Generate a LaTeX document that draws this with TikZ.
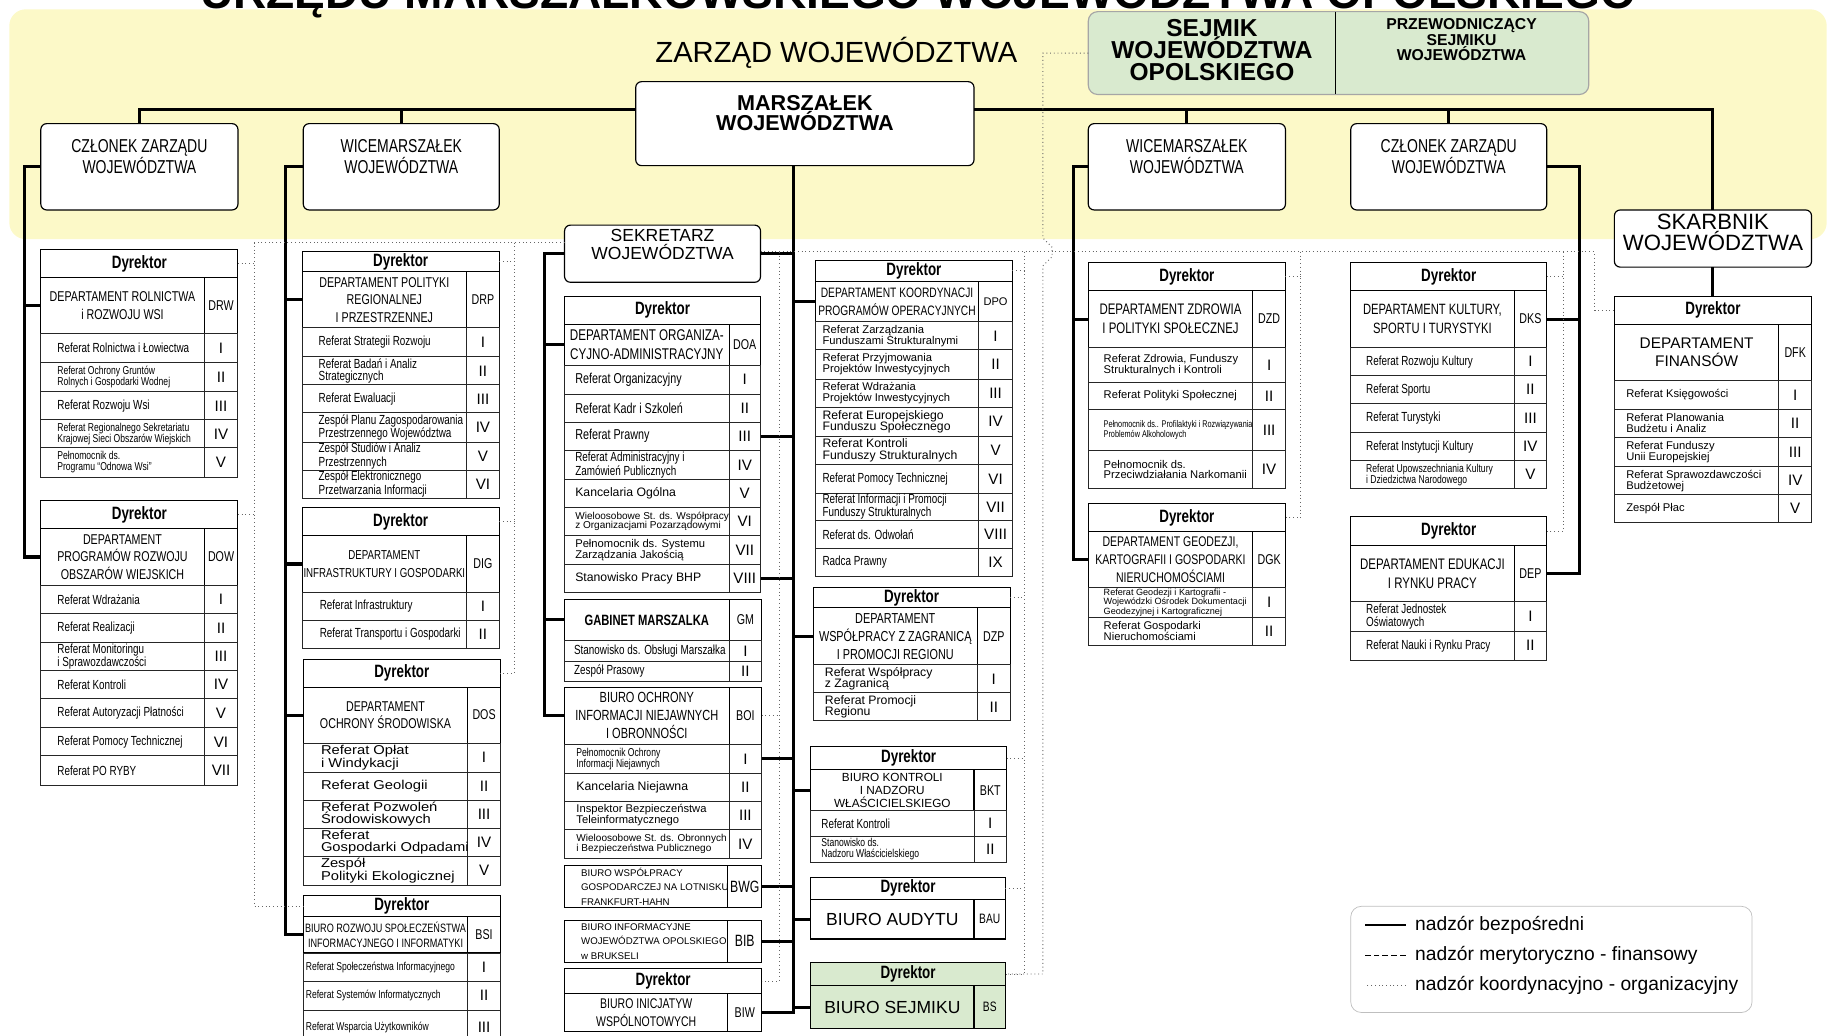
\documentclass[tikz,border=0pt]{standalone}
\usepackage{fontspec}
\setmainfont{Liberation Sans}
\newfontfamily\nar[FakeStretch=0.75]{Liberation Sans}
\newfontfamily\wid[FakeStretch=1.15]{Liberation Sans}
\definecolor{zarzad}{RGB}{252,249,200}
\definecolor{sejmik}{RGB}{217,234,207}
% rows of a department table: [text style]{name}{left}{code column}{right}{top/bottom/font/text/number}
\newcommand\deptrows[6][]{%
  \foreach \ya/\yb/\fs/\tx/\nm [count=\ri] in {#6}{%
    \draw[cell] (#3,\ya) rectangle (#4,\yb) (#4,\ya) rectangle (#5,\yb);
    \node[rtxt,\fs,#1] (#2t\ri) at ({#3+4},{(\ya+\yb)/2}) {\tx};
    \node[num] (#2n\ri) at ({(#4+#5)/2},{(\ya+\yb)/2}) {\nm};
    \coordinate (#2e\ri) at (#5,{(\ya+\yb)/2});
  }}
\begin{document}
\begin{tikzpicture}[x=1pt, y=-1pt,
    box/.style={draw, line width=1pt, rounded corners=5pt, fill=white, anchor=north west, inner sep=0pt, outer sep=0pt},
    btxt/.style={anchor=north, align=center, inner sep=0pt, font=\nar\fontsize{16}{18}\selectfont},
    dyr/.style={draw, line width=0.9pt, anchor=north west, inner sep=0pt, outer sep=0pt, font=\nar\bfseries\fontsize{15.3}{16}\selectfont},
    dcell/.style={draw, line width=0.9pt, anchor=north west, inner sep=0pt, outer sep=0pt, align=center, font=\nar\fontsize{12.2}{15}\selectfont},
    cell/.style={draw=black!85, line width=0.8pt},
    rtxt/.style={anchor=west, align=left, inner sep=0pt},
    num/.style={inner sep=0pt, font=\fontsize{13}{13}\selectfont},
    rn/.style={font=\nar\fontsize{11.3}{10.5}\selectfont},
    rm/.style={font=\nar\fontsize{12.3}{11}\selectfont},
    rs/.style={font=\nar\fontsize{9.8}{9.5}\selectfont},
    rx/.style={font=\nar\fontsize{8.3}{8}\selectfont},
    ra/.style={font=\fontsize{9.6}{9.4}\selectfont},
    rb/.style={font=\fontsize{10.5}{10}\selectfont},
    rt/.style={font=\fontsize{8.6}{8.4}\selectfont},
    rtt/.style={font=\fontsize{7.8}{7.1}\selectfont},
    rw/.style={font=\wid\fontsize{11}{10}\selectfont},
    sup/.style={line width=2.6pt},
    coord/.style={line width=0.8pt, black!60, dash pattern=on 0.8pt off 2.4pt}
  ]
  \useasboundingbox (0,0) rectangle (1568,888);

  % zarzad background
  \fill[zarzad, rounded corners=14pt] (8,8) rectangle (1566,205);
  \node[font=\bfseries\fontsize{39.5}{40}\selectfont, anchor=base] (title) at (787,7) {URZĘDU MARSZAŁKOWSKIEGO WOJEWÓDZTWA OPOLSKIEGO};
  \node[font=\fontsize{25}{25}\selectfont, anchor=base] (zarz) at (717,54) {ZARZĄD WOJEWÓDZTWA};

  \node[box, draw=black!35, fill=sejmik, rounded corners=8pt, minimum width=429pt, minimum height=71pt] (sejm) at (933,10) {};
  \draw[line width=0.8pt] ([xshift=212pt]sejm.north west) -- ([xshift=212pt]sejm.south west);
  \node[btxt, font=\bfseries\fontsize{21}{19}\selectfont] (sejmt) at (1039,16.5) {SEJMIK\\WOJEWÓDZTWA\\OPOLSKIEGO};
  \node[btxt, font=\bfseries\fontsize{13.5}{13.5}\selectfont] (przt) at (1253,15.5) {PRZEWODNICZĄCY\\SEJMIKU\\WOJEWÓDZTWA};

  \node[box, minimum width=290pt, minimum height=72pt] (msz) at (545,70) {};
  \node[btxt, font=\bfseries\fontsize{18.5}{16}\selectfont] (mszt) at (690,81.5) {MARSZAŁEK\\WOJEWÓDZTWA};
  \node[box, minimum width=169pt, minimum height=74pt] (cz1) at (35,106) {};
  \node[btxt] (cz1t) at (119.5,119.5) {CZŁONEK ZARZĄDU\\WOJEWÓDZTWA};
  \node[box, minimum width=168pt, minimum height=74pt] (wm1) at (260,106) {};
  \node[btxt] (wm1t) at (344,119.5) {WICEMARSZAŁEK\\WOJEWÓDZTWA};
  \node[box, minimum width=169pt, minimum height=74pt] (wm2) at (933,106) {};
  \node[btxt] (wm2t) at (1017.5,119.5) {WICEMARSZAŁEK\\WOJEWÓDZTWA};
  \node[box, minimum width=168pt, minimum height=74pt] (cz2) at (1158,106) {};
  \node[btxt] (cz2t) at (1242,119.5) {CZŁONEK ZARZĄDU\\WOJEWÓDZTWA};
  \node[box, minimum width=169pt, minimum height=49pt] (skb) at (1384,180) {};
  \node[btxt, font=\fontsize{19}{18}\selectfont] (skbt) at (1468.5,183) {SKARBNIK\\WOJEWÓDZTWA};
  \node[box, minimum width=168pt, minimum height=49pt] (sek) at (484,193) {};
  \node[btxt, font=\fontsize{15}{15}\selectfont] (sekt) at (568,196.5) {SEKRETARZ\\WOJEWÓDZTWA};

  % Czlonek zarzadu
  \node[dyr, minimum width=169pt, minimum height=24pt] (drwh) at (35,214) {Dyrektor};
  \node[dcell, minimum width=140pt, minimum height=48pt] (drw) at (35,238) {DEPARTAMENT ROLNICTWA\\i ROZWOJU WSI};
  \node[dcell, minimum width=29pt, minimum height=48pt] (drwc) at (175,238) {DRW};
  \deptrows[xshift=10pt]{drw}{35}{175}{204}{
    286/311/rn/Referat Rolnictwa i Łowiectwa/I,
    311/336/rs/{Referat Ochrony Gruntów\\Rolnych i Gospodarki Wodnej}/II,
    336/360/rn/Referat Rozwoju Wsi/III,
    360/384/rs/{Referat Regionalnego Sekretariatu\\Krajowej Sieci Obszarów Wiejskich}/IV,
    384/409/rs/{Pełnomocnik ds.\\Programu “Odnowa Wsi”}/V}

  \node[dyr, minimum width=169pt, minimum height=24pt] (dowh) at (35,429) {Dyrektor};
  \node[dcell, minimum width=140pt, minimum height=49pt] (dow) at (35,453) {DEPARTAMENT\\PROGRAMÓW ROZWOJU\\OBSZARÓW WIEJSKICH};
  \node[dcell, minimum width=29pt, minimum height=49pt] (dowc) at (175,453) {DOW};
  \deptrows[xshift=10pt]{dow}{35}{175}{204}{
    502/526/rn/Referat Wdrażania/I,
    526/551/rn/Referat Realizacji/II,
    551/575/rn/{Referat Monitoringu\\i Sprawozdawczości}/III,
    575/599/rn/Referat Kontroli/IV,
    599/624/rn/Referat Autoryzacji Płatności/V,
    624/648/rn/Referat Pomocy Technicznej/VI,
    648/673/rn/Referat PO RYBY/VII}

  % Wicemarszalek
  \node[dyr, minimum width=169pt, minimum height=17pt] (drph) at (259,216) {Dyrektor};
  \node[dcell, minimum width=141pt, minimum height=48pt] (drp) at (259,233) {DEPARTAMENT POLITYKI\\REGIONALNEJ\\I PRZESTRZENNEJ};
  \node[dcell, minimum width=28pt, minimum height=48pt] (drpc) at (400,233) {DRP};
  \deptrows[xshift=10pt]{drp}{259}{400}{428}{
    281/306/rn/Referat Strategii Rozwoju/I,
    306/330/rn/{Referat Badań i Analiz\\Strategicznych}/II,
    330/354/rn/Referat Ewaluacji/III,
    354/379/rn/{Zespół Planu Zagospodarowania\\Przestrzennego Województwa}/IV,
    379/403/rn/{Zespół Studiów i Analiz\\Przestrzennych}/V,
    403/427/rn/{Zespół Elektronicznego\\Przetwarzania Informacji}/VI}

  \node[dyr, minimum width=169pt, minimum height=24pt] (digh) at (259,435) {Dyrektor};
  \node[dcell, minimum width=141pt, minimum height=49pt, font=\nar\fontsize{11.1}{15}\selectfont] (dig) at (259,459) {DEPARTAMENT\\INFRASTRUKTURY I GOSPODARKI};
  \node[dcell, minimum width=28pt, minimum height=49pt] (digc) at (400,459) {DIG};
  \deptrows[xshift=11pt]{dig}{259}{400}{428}{
    508/532/rn/Referat Infrastruktury/I,
    532/556/rn/Referat Transportu i Gospodarki/II}

  \node[dyr, minimum width=169pt, minimum height=24pt] (dosh) at (260,565) {Dyrektor};
  \node[dcell, minimum width=141pt, minimum height=48pt] (dos) at (260,589) {DEPARTAMENT\\OCHRONY ŚRODOWISKA};
  \node[dcell, minimum width=28pt, minimum height=48pt] (dosc) at (401,589) {DOS};
  \deptrows[xshift=11pt]{dos}{260}{401}{429}{
    637/662/rw/{Referat Opłat\\i Windykacji}/I,
    662/686/rw/Referat Geologii/II,
    686/710/rw/{Referat Pozwoleń\\Środowiskowych}/III,
    710/734/rw/{Referat\\Gospodarki Odpadami}/IV,
    734/759/rw/{Zespół\\Polityki Ekologicznej}/V}

  \node[dyr, minimum width=169pt, minimum height=18pt] (bsih) at (260,768) {Dyrektor};
  \node[dcell, minimum width=141pt, minimum height=31pt, font=\nar\fontsize{10.4}{13}\selectfont] (bsi) at (260,786) {BIURO ROZWOJU SPOŁECZEŃSTWA\\INFORMACYJNEGO I INFORMATYKI};
  \node[dcell, minimum width=28pt, minimum height=31pt] (bsic) at (401,786) {BSI};
  \deptrows[xshift=-2pt]{bsi}{260}{401}{429}{
    817/841/rs/Referat Społeczeństwa Informacyjnego/I,
    841/866/rs/Referat Systemów Informatycznych/II,
    866/895/rs/Referat Wsparcia Użytkowników/III}

  % Sekretarz
  \node[dyr, minimum width=168pt, minimum height=24pt] (doah) at (484,254) {Dyrektor};
  \node[dcell, minimum width=141pt, minimum height=35pt, font=\nar\fontsize{13.3}{15.7}\selectfont] (doa) at (484,278) {DEPARTAMENT ORGANIZA-\\CYJNO-ADMINISTRACYJNY};
  \node[dcell, minimum width=27pt, minimum height=35pt] (doac) at (625,278) {DOA};
  \deptrows[xshift=5pt]{doa}{484}{625}{652}{
    313/338/rm/Referat Organizacyjny/I,
    338/362/rm/Referat Kadr i Szkoleń/II,
    362/386/rm/Referat Prawny/III,
    386/411/rn/{Referat Administracyjny i\\Zamówień Publicznych}/IV,
    411/435/rb/Kancelaria Ogólna/V,
    435/459/rt/{Wieloosobowe St. ds. Współpracy\\z Organizacjami Pozarządowymi}/VI,
    459/484/ra/{Pełnomocnik ds. Systemu\\Zarządzania Jakością}/VII,
    484/508/rb/Stanowisko Pracy BHP/VIII}

  \node[dcell, minimum width=141pt, minimum height=35pt, font=\nar\bfseries\fontsize{12.8}{14}\selectfont] (gm) at (484,514) {GABINET MARSZALKA};
  \node[dcell, minimum width=28pt, minimum height=35pt] (gmc) at (625,514) {GM};
  \deptrows[xshift=4pt]{gm}{484}{625}{653}{
    549/567/rn/Stanowisko ds. Obsługi Marszałka/I,
    567/584/rn/Zespół Prasowy/II}

  \node[dcell, minimum width=141pt, minimum height=49pt, font=\nar\fontsize{12.6}{15.4}\selectfont] (boi) at (484,589) {BIURO OCHRONY\\INFORMACJI NIEJAWNYCH\\I OBRONNOŚCI};
  \node[dcell, minimum width=28pt, minimum height=49pt] (boic) at (625,589) {BOI};
  \deptrows[xshift=6pt]{boi}{484}{625}{653}{
    638/663/rs/{Pełnomocnik Ochrony\\Informacji Niejawnych}/I,
    663/687/rb/Kancelaria Niejawna/II,
    687/711/ra/{Inspektor Bezpieczeństwa\\Teleinformatycznego}/III,
    711/736/rt/{Wieloosobowe St. ds. Obronnych\\i Bezpieczeństwa Publicznego}/IV}

  \node[dcell, minimum width=140pt, minimum height=36pt] (bwg) at (484,742) {};
  \node[rtxt, font=\fontsize{8.3}{12.5}\selectfont] (bwgt) at (498,760) {BIURO WSPÓŁPRACY\\GOSPODARCZEJ NA LOTNISKU\\FRANKFURT-HAHN};
  \node[dcell, minimum width=29pt, minimum height=36pt, font=\nar\fontsize{14}{14}\selectfont] (bwgc) at (624,742) {BWG};
  \node[dcell, minimum width=140pt, minimum height=36pt] (bib) at (484,789) {};
  \node[rtxt, font=\fontsize{8.3}{12.5}\selectfont] (bibt) at (498,807) {BIURO INFORMACYJNE\\WOJEWÓDZTWA OPOLSKIEGO\\w BRUKSELI};
  \node[dcell, minimum width=29pt, minimum height=36pt, font=\nar\fontsize{14}{14}\selectfont] (bibc) at (624,789) {BIB};
  \node[dyr, minimum width=169pt, minimum height=22pt] (biwh) at (484,830) {Dyrektor};
  \node[dcell, minimum width=140pt, minimum height=32pt, font=\nar\fontsize{12}{15}\selectfont] (biw) at (484,852) {BIURO INICJATYW\\WSPÓLNOTOWYCH};
  \node[dcell, minimum width=29pt, minimum height=32pt] (biwc) at (624,852) {BIW};

  % Marszalek
  \node[dyr, minimum width=169pt, minimum height=18pt] (dpoh) at (699,223) {Dyrektor};
  \node[dcell, minimum width=140pt, minimum height=35pt, font=\nar\fontsize{11.7}{15.7}\selectfont] (dpo) at (699,241) {DEPARTAMENT KOORDYNACJI\\PROGRAMÓW OPERACYJNYCH};
  \node[dcell, minimum width=29pt, minimum height=35pt, font=\fontsize{9.5}{10}\selectfont] (dpoc) at (839,241) {DPO};
  \deptrows[xshift=2pt]{dpo}{699}{839}{868}{
    276/300/ra/{Referat Zarządzania\\Funduszami Strukturalnymi}/I,
    300/325/ra/{Referat Przyjmowania\\Projektów Inwestycyjnych}/II,
    325/349/ra/{Referat Wdrażania\\Projektów Inwestycyjnych}/III,
    349/374/rb/{Referat Europejskiego\\Funduszu Społecznego}/IV,
    374/398/rb/{Referat Kontroli\\Funduszy Strukturalnych}/V,
    398/423/rn/Referat Pomocy Technicznej/VI,
    423/446/rn/{Referat Informacji i Promocji\\Funduszy Strukturalnych}/VII,
    446/470/rn/Referat ds. Odwołań/VIII,
    470/494/rn/Radca Prawny/IX}

  \node[dyr, minimum width=169pt, minimum height=17pt] (dzph) at (697,504) {Dyrektor};
  \node[dcell, minimum width=141pt, minimum height=49pt, font=\nar\fontsize{12.4}{15.4}\selectfont] (dzp) at (697,521) {DEPARTAMENT\\WSPÓŁPRACY Z ZAGRANICĄ\\I PROMOCJI REGIONU};
  \node[dcell, minimum width=28pt, minimum height=49pt] (dzpc) at (838,521) {DZP};
  \deptrows[xshift=6pt]{dzp}{697}{838}{866}{
    570/594/rb/{Referat Współpracy\\z Zagranicą}/I,
    594/618/rb/{Referat Promocji\\Regionu}/II}

  \node[dyr, minimum width=168pt, minimum height=20pt] (bkth) at (695,640) {Dyrektor};
  \node[dcell, minimum width=140pt, minimum height=35pt, font=\fontsize{10.1}{11.1}\selectfont] (bkt) at (695,660) {BIURO KONTROLI\\I NADZORU\\WŁAŚCICIELSKIEGO};
  \node[dcell, minimum width=28pt, minimum height=35pt] (bktc) at (835,660) {BKT};
  \deptrows[xshift=5pt]{bkt}{695}{835}{863}{
    695/717/rn/Referat Kontroli/I,
    717/739/rs/{Stanowisko ds.\\Nadzoru Właścicielskiego}/II}

  \node[dyr, minimum width=167pt, minimum height=19pt] (bauh) at (695,752) {Dyrektor};
  \node[dcell, minimum width=140pt, minimum height=34pt, font=\fontsize{15}{15}\selectfont] (bau) at (695,771) {BIURO AUDYTU};
  \node[dcell, minimum width=27pt, minimum height=34pt, font=\nar\fontsize{11.7}{12}\selectfont] (bauc) at (835,771) {BAU};

  \node[dyr, fill=sejmik, minimum width=167pt, minimum height=20pt] (bsh) at (695,825) {Dyrektor};
  \node[dcell, fill=sejmik, minimum width=140pt, minimum height=37pt, font=\fontsize{15}{15}\selectfont] (bs) at (695,845) {BIURO SEJMIKU};
  \node[dcell, fill=sejmik, minimum width=27pt, minimum height=37pt, font=\nar\fontsize{11.7}{12}\selectfont] (bsc) at (835,845) {BS};

  % Wicemarszalek (prawy)
  \node[dyr, minimum width=169pt, minimum height=24pt] (dzdh) at (933,225) {Dyrektor};
  \node[dcell, minimum width=141pt, minimum height=49pt, font=\nar\fontsize{13.1}{16}\selectfont] (dzd) at (933,249) {DEPARTAMENT ZDROWIA\\I POLITYKI SPOŁECZNEJ};
  \node[dcell, minimum width=28pt, minimum height=49pt] (dzdc) at (1074,249) {DZD};
  \deptrows[xshift=9pt]{dzd}{933}{1074}{1102}{
    298/328/ra/{Referat Zdrowia, Funduszy\\Strukturalnych i Kontroli}/I,
    328/351/ra/Referat Polityki Społecznej/II,
    351/386/rx/{Pełnomocnik ds.. Profilaktyki i Rozwiązywania\\Problemów Alkoholowych}/III,
    386/419/ra/{Pełnomocnik ds.\\Przeciwdziałania Narkomanii}/IV}

  \node[dyr, minimum width=169pt, minimum height=24pt] (dgkh) at (933,432) {Dyrektor};
  \node[dcell, minimum width=141pt, minimum height=48pt, font=\nar\fontsize{12}{15.4}\selectfont] (dgk) at (933,456) {DEPARTAMENT GEODEZJI,\\KARTOGRAFII I GOSPODARKI\\NIERUCHOMOŚCIAMI};
  \node[dcell, minimum width=28pt, minimum height=48pt] (dgkc) at (1074,456) {DGK};
  \deptrows[xshift=9pt]{dgk}{933}{1074}{1102}{
    504/529/rtt/{Referat Geodezji i Kartografii -\\Wojewódzki Ośrodek Dokumentacji\\Geodezyjnej i Kartograficznej}/I,
    529/553/ra/{Referat Gospodarki\\Nieruchomościami}/II}

  % Czlonek zarzadu (prawy)
  \node[dyr, minimum width=168pt, minimum height=24pt] (dksh) at (1158,225) {Dyrektor};
  \node[dcell, minimum width=140pt, minimum height=49pt, font=\nar\fontsize{12.8}{16}\selectfont] (dks) at (1158,249) {DEPARTAMENT KULTURY,\\SPORTU I TURYSTYKI};
  \node[dcell, minimum width=28pt, minimum height=49pt] (dksc) at (1298,249) {DKS};
  \deptrows[xshift=9pt]{dks}{1158}{1298}{1326}{
    298/322/rn/Referat Rozwoju Kultury/I,
    322/346/rn/Referat Sportu/II,
    346/371/rn/Referat Turystyki/III,
    371/395/rn/Referat Instytucji Kultury/IV,
    395/419/rs/{Referat Upowszechniania Kultury\\i Dziedzictwa Narodowego}/V}

  \node[dyr, minimum width=168pt, minimum height=25pt] (deph) at (1158,443) {Dyrektor};
  \node[dcell, minimum width=140pt, minimum height=48pt, font=\nar\fontsize{13.1}{16}\selectfont] (dep) at (1158,468) {DEPARTAMENT EDUKACJI\\I RYNKU PRACY};
  \node[dcell, minimum width=28pt, minimum height=48pt] (depc) at (1298,468) {DEP};
  \deptrows[xshift=9pt]{dep}{1158}{1298}{1326}{
    516/541/rn/{Referat Jednostek\\Oświatowych}/I,
    541/566/rn/Referat Nauki i Rynku Pracy/II}

  % Skarbnik
  \node[dyr, minimum width=169pt, minimum height=24pt] (dfkh) at (1384,254) {Dyrektor};
  \node[dcell, minimum width=141pt, minimum height=48pt, font=\fontsize{13.2}{15.7}\selectfont] (dfk) at (1384,278) {DEPARTAMENT\\FINANSÓW};
  \node[dcell, minimum width=28pt, minimum height=48pt] (dfkc) at (1525,278) {DFK};
  \deptrows[xshift=6pt]{dfk}{1384}{1525}{1553}{
    326/351/ra/Referat Księgowości/I,
    351/375/ra/{Referat Planowania\\Budżetu i Analiz}/II,
    375/400/ra/{Referat Funduszy\\Unii Europejskiej}/III,
    400/424/ra/{Referat Sprawozdawczości\\Budżetowej}/IV,
    424/448/ra/Zespół Płac/V}

  % nadzor bezposredni
  \coordinate (mbar) at (690,94);
  \draw[sup] (cz1.north) |- (msz.west |- mbar);
  \draw[sup] (wm1.north) -- (wm1.north |- mbar);
  \draw[sup] (msz.east |- mbar) -| (skb.north);
  \draw[sup] (wm2.north) -- (wm2.north |- mbar);
  \draw[sup] (cz2.north) -- (cz2.north |- mbar);
  \draw[sup] (cz1.west) -- ++(-14,0) |- (dow.west);
  \draw[sup] (drw.west) -- ++(-14,0);
  \draw[sup] (wm1.west) -- ++(-15,0) |- (bsi.west);
  \draw[sup] (drp.west) -- ++(-14,0);
  \draw[sup] (dig.west) -- ++(-14,0);
  \draw[sup] (dos.west) -- ++(-15,0);
  \draw[sup] (sek.west) -- ++(-17,0) |- (boi.west);
  \draw[sup] (doa.west) -- ++(-17,0);
  \draw[sup] (gm.west) -- ++(-17,0);
  \coordinate (mb) at (680,142);
  \draw[sup] (mb) |- (biwc.east);
  \foreach \nd in {sek.east, doae3, doae8, boie1, bwgc.east, bibc.east, dpo.west, dzp.west, bkt.west, bau.west, bs.west}
    \draw[sup] (\nd) -- (\nd -| mb);
  \draw[sup] (wm2.west) -- ++(-13,0) |- (dgk.west);
  \draw[sup] (dzd.west) -- ++(-13,0);
  \draw[sup] (cz2.east) -- ++(28,0) |- (depc.east);
  \draw[sup] (dksc.east) -- ++(28,0);
  \draw[sup] (skb.south) -- (dfkh.north);

  % nadzor koordynacyjno - organizacyjny
  \coordinate (dl) at (218,208);
  \coordinate (dm) at (441,208);
  \draw[coord] (sek.west |- dl) -- (dl) |- (bsih.west);
  \draw[coord] (drwh.east) -- (drwh.east -| dl);
  \draw[coord] (dowh.east) -- (dowh.east -| dl);
  \draw[coord] (dm) |- (dosh.east);
  \draw[coord] (drph.east) -- (drph.east -| dm);
  \draw[coord] (digh.east) -- (digh.east -| dm);
  \coordinate (dr) at (1367,216);
  \draw[coord] (sek.east |- dr) -- (dr) |- (dfkh.west);
  \coordinate (d1) at (668,216);
  \draw[coord] (d1) |- (biwh.east);
  \draw[coord] (boic.east) -- (boic.east -| d1);
  \coordinate (d2) at (878,216);
  \draw[coord] (d2) |- (bsh.east);
  \foreach \nd in {dpoh, dzph, bkth, bauh}
    \draw[coord] (\nd.east) -- (\nd.east -| d2);
  \coordinate (d3) at (1115,216);
  \draw[coord] (d3) |- (dgkh.east);
  \draw[coord] (dzdh.east) -- (dzdh.east -| d3);
  \coordinate (d4) at (1340,216);
  \draw[coord] (d4) |- (deph.east);
  \draw[coord] (dksh.east) -- (dksh.east -| d4);
  \draw[coord] (sejm.west) -- ++(-39,0) -- ++(0,158.5) -- ++(8,8) -- ++(0,8) -- ++(-8,8) |- (bsh.east);

  % legenda
  \node[box, draw=black!25, line width=0.6pt, rounded corners=9pt, minimum width=344pt, minimum height=91pt] (leg) at (1158,777) {};
  \node[anchor=west, inner sep=0pt, font=\fontsize{16.5}{16.5}\selectfont] (lg1) at (1213,793) {nadzór bezpośredni};
  \node[anchor=west, inner sep=0pt, font=\fontsize{16.5}{16.5}\selectfont] (lg2) at (1213,819) {nadzór merytoryczno - finansowy};
  \node[anchor=west, inner sep=0pt, font=\fontsize{16.5}{16.5}\selectfont] (lg3) at (1213,845) {nadzór koordynacyjno - organizacyjny};
  \draw[sup, line width=2.2pt] ([xshift=-8pt]lg1.west) -- ++(-35,0);
  \draw[line width=1.1pt, dash pattern=on 5pt off 2.5pt] ([xshift=-8pt]lg2.west) -- ++(-35,0);
  \draw[coord] ([xshift=-8pt]lg3.west) -- ++(-35,0);
\end{tikzpicture}
\end{document}
